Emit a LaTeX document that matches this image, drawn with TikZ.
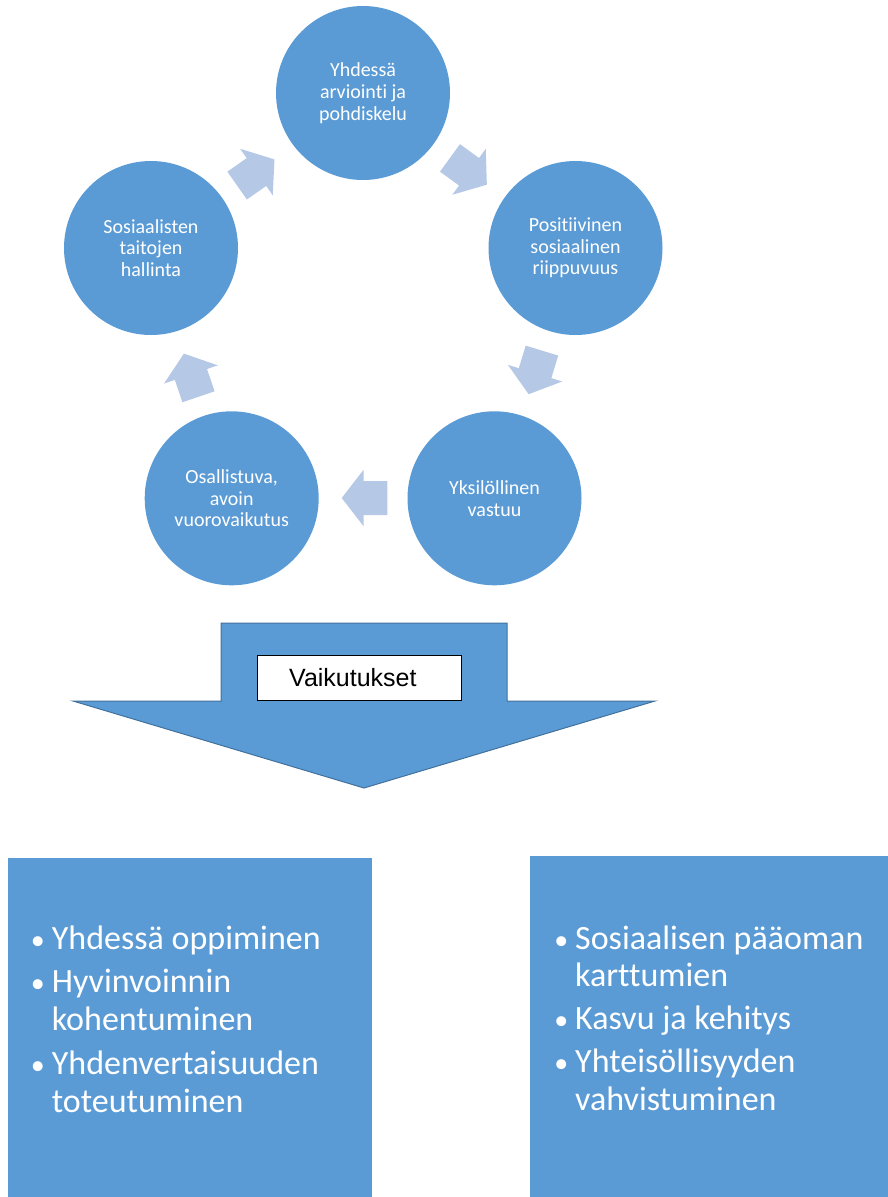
\documentclass[tikz,border=0pt]{standalone}
\usepackage{fontspec}
\setmainfont{Carlito}[Ligatures={NoCommon}]
\newfontfamily\arialfont{Liberation Sans}
\definecolor{cycleblue}{RGB}{91,155,213}
\definecolor{arrowtint}{RGB}{181,201,231}
\definecolor{edgeblue}{RGB}{65,113,156}

% block arrow of the cycle, centred on (#1,#2), pointing at angle #3
\newcommand\cyclearrow[3]{%
  \fill[arrowtint, shift={(#1,#2)}, rotate=#3]
    (-22.8,-17) -- (0.8,-17) -- (0.8,-28.4) -- (22.8,0)
    -- (0.8,28.4) -- (0.8,17) -- (-22.8,17) -- cycle;}
\newcommand\bul{\par\noindent\llap{{\fontsize{28}{28}\selectfont •}\hspace{7pt}}}

\begin{document}
\begin{tikzpicture}[x=1pt,y=-1pt,
  stage/.style={circle, fill=cycleblue, inner sep=0pt, minimum size=174pt,
    text=white, align=center, font=\fontsize{20}{21.7}\selectfont},
  resultbox/.style={fill=cycleblue, inner sep=0pt, anchor=north west},
  resulttext/.style={anchor=base west, inner sep=0pt, text=white},
  bigarrow/.style={fill=cycleblue, draw=edgeblue, line width=1pt, line join=miter}]
\useasboundingbox (0,0) rectangle (888,1197);

% cycle of stages
\node[stage] (s1) at (363,93) {Yhdessä\\arviointi ja\\pohdiskelu};
\node[stage] (s2) at (575.5,248) {Positiivinen\\sosiaalinen\\riippuvuus};
\node[stage] (s3) at (494.5,498.3) {Yksilöllinen\\vastuu};
\node[stage] (s4) at (231.7,498.3) {Osallistuva,\\avoin\\vuorovaikutus};
\node[stage] (s5) at (151,248) {Sosiaalisten\\taitojen\\hallinta};

% arrows between the stages
\cyclearrow{255.8}{172.5}{35}
\cyclearrow{468.4}{171.3}{-36}
\cyclearrow{535.3}{372.4}{-107}
\cyclearrow{364.5}{498}{180}
\cyclearrow{191.2}{375.2}{108.7}

% downward arrow with its label
\draw[bigarrow] (221,623) -- (507,623) -- (507,701) -- (655,701)
  -- (364,788) -- (73,701) -- (221,701) -- cycle;
\node[draw=black, line width=0.9pt, fill=white, inner sep=0pt,
  minimum width=204pt, minimum height=45pt, anchor=north west] (vbox) at (257,655) {};
\node[anchor=base west, inner sep=0pt, font=\arialfont\fontsize{25}{30}\selectfont]
  (vtext) at (289,686.5) {Vaikutukset};

% result boxes
\node[resultbox, minimum width=364.4pt, minimum height=339.3pt] (r1) at (7.3,857.7) {};
\node[resultbox, minimum width=358pt, minimum height=341.3pt] (r2) at (530,855.7) {};

\node[resulttext] (t1) at (51.7,949.3) {\parbox[t]{318pt}{%
  \fontsize{34}{38}\selectfont\parskip=5.5pt
  \bul Yhdessä oppiminen
  \bul Hyvinvoinnin\\kohentuminen
  \bul Yhdenvertaisuuden\\toteutuminen}};
\node[resulttext] (t2) at (575,949.3) {\parbox[t]{310pt}{%
  \fontsize{34}{37.5}\selectfont\parskip=5.5pt
  \bul Sosiaalisen pääoman\\karttumien
  \bul Kasvu ja kehitys
  \bul Yhteisöllisyyden\\vahvistuminen}};
\end{tikzpicture}
\end{document}
